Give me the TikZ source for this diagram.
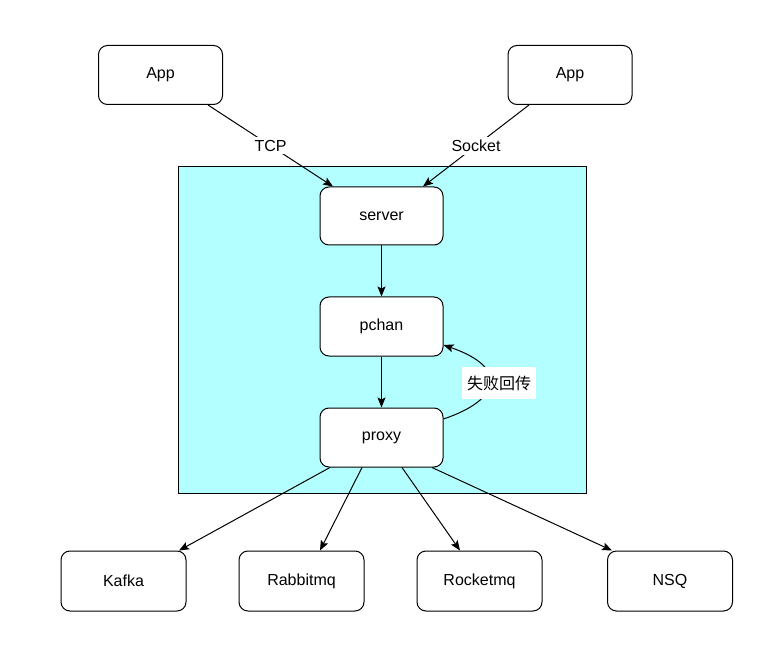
\documentclass[tikz,border=0pt]{standalone}
\usepackage{fontspec}
\setmainfont{Liberation Sans}
\newfontfamily\cjk{Noto Sans CJK SC}
\usetikzlibrary{arrows.meta}
\definecolor{cyanbg}{HTML}{B3FFFF}
\tikzset{
  box/.style={draw=black, line width=1pt, fill=white, rounded corners=9pt, minimum width=124pt, minimum height=59pt, inner sep=0pt, font=\fontsize{16}{19}\selectfont},
  conn/.style={draw=black, line width=1pt, -{Stealth[length=10pt,width=8pt,inset=2pt]}},
  lbl/.style={fill=white, inner sep=3pt, font=\fontsize{16}{19}\selectfont}
}
\begin{document}
\begin{tikzpicture}[x=1pt,y=-1pt]
\useasboundingbox (0,0) rectangle (779,652);
\node[draw=black, line width=1pt, fill=cyanbg, minimum width=408pt, minimum height=326pt, inner sep=0pt] (area) at (382.5,330) {};
\node[box] (app1) at (160.5,75) {App};
\node[box] (app2) at (570,75) {App};
\node[box, minimum width=123pt, minimum height=58pt] (server) at (381.5,216) {server};
\node[box, minimum width=123pt, minimum height=59pt] (pchan) at (381.5,326.5) {pchan};
\node[box, minimum width=123pt, minimum height=59pt] (proxy) at (381.5,437.5) {proxy};
\node[box, minimum width=125pt, minimum height=60pt] (kafka) at (123.5,581) {Kafka};
\node[box, minimum width=125pt, minimum height=60pt] (rabbit) at (301.5,581) {Rabbitmq};
\node[box, minimum width=125pt, minimum height=60pt] (rocket) at (479.5,581) {Rocketmq};
\node[box, minimum width=125pt, minimum height=60pt] (nsq) at (670,581) {NSQ};

\draw[conn] ([xshift=47.5pt]app1.south) -- node[lbl] {TCP} ([xshift=-48.5pt]server.north);
\draw[conn] ([xshift=-41pt]app2.south) -- node[lbl] {Socket} ([xshift=41.5pt]server.north);
\draw[conn] (server) -- (pchan);
\draw[conn] (pchan) -- (proxy);
\draw[conn] ([yshift=18.5pt]proxy.east) .. controls (500,400) and (510,368) .. ([yshift=-18.5pt]pchan.east);
\node[lbl, minimum width=74pt, minimum height=32pt, inner sep=0pt, font=\cjk\fontsize{16}{19}\selectfont] (fail) at (499,383) {失败回传};

\draw[conn] ([xshift=-51.5pt]proxy.south) -- ([xshift=55.5pt]kafka.north);
\draw[conn] ([xshift=-19.5pt]proxy.south) -- ([xshift=18.5pt]rabbit.north);
\draw[conn] ([xshift=20.5pt]proxy.south) -- ([xshift=-19.5pt]rocket.north);
\draw[conn] ([xshift=50.5pt]proxy.south) -- ([xshift=-58pt]nsq.north);
\end{tikzpicture}
\end{document}
